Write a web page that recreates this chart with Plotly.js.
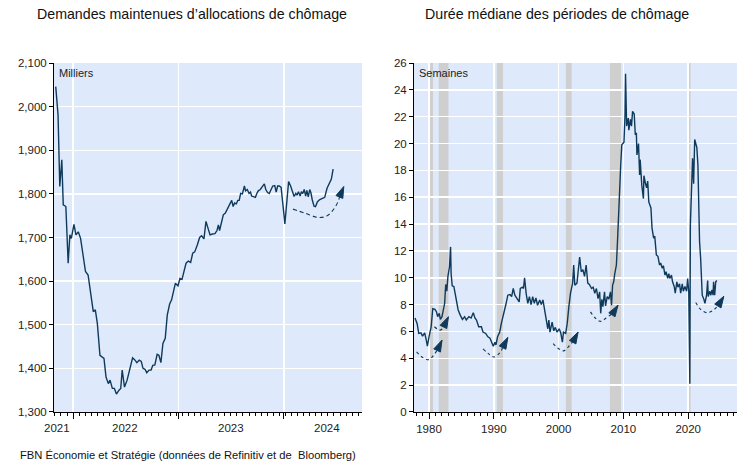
<!DOCTYPE html>
<html>
<head>
<meta charset="utf-8">
<script src="https://cdn.plot.ly/plotly-3.0.1.min.js"></script>
<style>
  body { margin: 0; background: white; }
  #chart { width: 747px; height: 463px; }
</style>
</head>
<body>
<div id="chart"></div>
<script>
// Demandes maintenues (milliers), hebdo
const claimDates = [
  "2021-11-02","2021-11-10","2021-11-16","2021-11-23","2021-11-28","2021-12-07","2021-12-15","2021-12-21","2021-12-26",
  "2022-01-04","2022-01-11","2022-01-19","2022-01-27","2022-02-04","2022-02-13","2022-02-22","2022-03-03","2022-03-12",
  "2022-03-19","2022-03-26","2022-04-04","2022-04-18","2022-04-25","2022-05-03","2022-05-09","2022-05-17","2022-05-24",
  "2022-05-31","2022-06-09","2022-06-15","2022-06-20","2022-06-28","2022-07-07","2022-07-17","2022-07-26","2022-08-02",
  "2022-08-10","2022-08-18","2022-08-25","2022-08-31","2022-09-07","2022-09-13","2022-09-21","2022-09-28","2022-10-04",
  "2022-10-11","2022-10-19","2022-10-25","2022-11-01","2022-11-08","2022-11-16","2022-11-23","2022-12-01","2022-12-08",
  "2022-12-14","2022-12-21","2022-12-30","2023-01-06","2023-01-13","2023-01-20","2023-01-27","2023-02-04","2023-02-12",
  "2023-02-19","2023-02-26","2023-03-07","2023-03-15","2023-03-22","2023-03-30","2023-04-06","2023-04-14","2023-04-20",
  "2023-04-28","2023-05-07","2023-05-14","2023-05-19","2023-05-23","2023-05-30","2023-06-05","2023-06-12","2023-06-18",
  "2023-06-22","2023-06-28","2023-07-04","2023-07-09","2023-07-14","2023-07-20","2023-07-25","2023-07-30","2023-08-04",
  "2023-08-10","2023-08-17","2023-08-21","2023-08-27","2023-09-02","2023-09-07","2023-09-11","2023-09-18","2023-09-24",
  "2023-09-29","2023-10-04","2023-10-11","2023-10-18","2023-10-25","2023-10-30","2023-11-05","2023-11-11","2023-11-17",
  "2023-11-23","2023-11-30","2023-12-05","2023-12-10","2023-12-16","2023-12-22","2023-12-26","2024-01-01","2024-01-04",
  "2024-01-10","2024-01-17","2024-01-24","2024-01-29","2024-02-05","2024-02-11","2024-02-15","2024-02-20","2024-02-26",
  "2024-03-01","2024-03-06","2024-03-11","2024-03-16","2024-03-20","2024-03-25","2024-03-30","2024-04-03","2024-04-08",
  "2024-04-14","2024-04-19","2024-04-26","2024-05-04","2024-05-12","2024-05-21","2024-05-29","2024-06-06","2024-06-13",
  "2024-06-19"
];
const claimValues = [
  2046,1981,1817,1878,1775,1771,1641,1706,1698,
  1730,1706,1713,1698,1667,1622,1614,1576,1530,
  1534,1503,1430,1423,1380,1365,1373,1354,1354,
  1341,1350,1354,1396,1357,1373,1400,1424,1420,
  1413,1419,1416,1400,1398,1390,1396,1396,1407,
  1408,1432,1430,1413,1457,1469,1522,1547,1557,
  1576,1595,1589,1606,1604,1625,1641,1646,1643,
  1664,1667,1683,1700,1704,1697,1737,1719,1706,
  1708,1709,1716,1729,1716,1736,1752,1756,1763,
  1771,1775,1785,1771,1779,1777,1785,1785,1801,
  1800,1818,1807,1810,1801,1804,1795,1793,1792,
  1801,1807,1810,1817,1823,1810,1803,1801,1810,
  1818,1819,1804,1818,1818,1815,1782,1752,1731,
  1771,1828,1818,1809,1794,1801,1797,1805,1795,
  1805,1801,1810,1795,1808,1793,1810,1803,1786,
  1772,1771,1782,1787,1789,1792,1813,1824,1834,
  1857
];

// Durée médiane (semaines), mensuel
const durDates = [
  "1977-11","1978-03","1978-06","1978-10","1979-01","1979-05","1979-08","1979-10","1980-01","1980-05",
  "1980-08","1980-12","1981-03","1981-05","1981-08","1981-10","1982-01","1982-03","1982-06","1982-07",
  "1982-08","1982-10","1982-12","1983-03","1983-05","1983-06","1983-08","1983-11","1984-01","1984-04",
  "1984-07","1984-11","1985-03","1985-07","1985-10","1986-03","1986-07","1986-11","1987-02","1987-05",
  "1987-09","1988-02","1988-05","1988-10","1989-02","1989-06","1989-09","1989-12","1990-03","1990-05",
  "1990-08","1990-12","1991-03","1991-06","1991-11","1992-03","1992-07","1992-10","1993-01","1993-04",
  "1993-08","1993-12","1994-02","1994-06","1994-08","1994-10","1995-01","1995-04","1995-07","1995-10",
  "1996-01","1996-04","1996-07","1996-10","1997-02","1997-05","1997-08","1997-11","1998-02","1998-05",
  "1998-07","1998-09","1999-01","1999-04","1999-07","1999-10","2000-02","2000-05","2000-08","2000-10",
  "2001-02","2001-05","2001-08","2001-11","2002-03","2002-05","2002-07","2002-11","2003-04","2003-07",
  "2003-10","2004-01","2004-04","2004-07","2004-10","2005-02","2005-05","2005-08","2005-11","2006-02",
  "2006-05","2006-07","2006-09","2006-11","2007-02","2007-04","2007-07","2007-10","2008-01","2008-03",
  "2008-05","2008-07","2008-09","2008-12","2009-02","2009-04","2009-06","2009-08","2009-10","2010-02",
  "2010-04","2010-05","2010-07","2010-10","2010-11","2011-02","2011-04","2011-06","2011-09","2011-11",
  "2012-01","2012-02","2012-05","2012-07","2012-08","2012-11","2013-02","2013-03","2013-06","2013-08",
  "2013-10","2013-12","2014-04","2014-06","2014-09","2014-11","2015-02","2015-05","2015-08","2015-10",
  "2016-01","2016-03","2016-06","2016-08","2016-11","2017-01","2017-03","2017-06","2017-08","2017-11",
  "2018-01","2018-04","2018-06","2018-09","2018-11","2019-02","2019-04","2019-07","2019-10","2019-12",
  "2020-02","2020-04","2020-05","2020-07","2020-09","2020-11","2021-01","2021-03","2021-05","2021-07",
  "2021-08","2021-10","2021-12","2022-01","2022-03","2022-06","2022-08","2022-11","2023-01","2023-02",
  "2023-05","2023-07","2023-09","2023-11","2023-12","2024-02","2024-04","2024-06"
];
const durValues = [
  7.0,6.6,5.85,5.9,5.65,5.9,5.35,4.9,5.6,6.35,
  7.7,7.65,7.45,7.1,7.35,6.9,7.1,7.45,8.1,8.85,
  9.5,9.0,10.1,10.8,12.3,10.3,9.4,9.35,8.95,8.1,
  7.6,7.2,6.9,7.1,6.85,7.1,7.0,7.4,7.0,6.85,
  6.35,6.35,5.95,5.85,5.6,5.5,5.15,4.9,5.2,5.0,
  5.6,5.95,6.6,7.2,7.95,8.7,8.75,8.6,9.2,8.7,
  8.45,8.2,9.2,9.3,9.2,10.0,8.8,8.1,8.6,8.0,
  8.6,8.1,8.5,7.95,8.35,8.0,8.35,7.6,6.85,6.2,
  6.85,5.95,6.7,6.05,6.3,5.95,6.2,5.9,5.2,5.95,
  5.85,6.6,7.85,8.85,9.6,10.95,9.45,9.6,11.55,10.45,
  10.6,10.1,10.95,9.6,9.5,9.2,9.3,8.85,9.2,8.45,
  8.95,7.35,8.4,7.85,8.95,7.9,8.6,8.4,8.95,7.95,
  9.45,9.7,10.3,10.95,12.7,14.9,16.4,18.4,19.9,20.1,
  22.1,25.2,21.3,21.9,21.0,21.8,21.3,22.4,22.2,20.65,
  20.8,19.15,20.0,17.65,18.8,16.9,15.9,17.6,17.0,16.7,
  17.2,15.65,15.2,13.7,12.95,13.1,11.7,11.6,10.95,11.1,
  10.7,10.9,10.2,10.45,9.95,10.3,9.95,10.2,9.7,9.35,
  8.85,9.7,9.3,9.55,8.85,9.55,9.0,9.35,9.0,9.95,
  8.95,2.1,13.9,16.4,18.9,17.0,20.3,20.0,19.7,18.4,
  15.9,12.7,11.45,9.95,8.7,8.4,8.1,8.7,9.8,8.6,
  9.0,8.7,9.1,8.7,9.7,8.7,9.7,9.8
];

// Récessions (zones grises)
const recessionStarts = ["1980-01-01","1981-07-01","1990-06-15","2001-02-15","2007-12-01","2020-02-01"];
const recessionEnds   = ["1980-08-15","1983-01-01","1991-06-01","2002-01-01","2009-08-15","2020-05-15"];

// Flèches pointillées (creux puis remontée)
const claimArcDates = ["2024-02-01","2024-03-13","2024-04-28","2024-05-27","2024-06-19","2024-07-06","2024-07-14","2024-07-26"];
const claimArcValues = [1765,1756,1746,1749,1763,1782,1798,1817];

const durArcs = [
  { x: ["1978-02","1978-12","1980-01","1980-09","1981-06","1982-01"], y: [4.48,4.1,3.9,4.2,4.75,5.35] },
  { x: ["1980-11","1981-09","1982-04","1982-07","1983-01"], y: [6.35,6.1,6.3,6.6,7.1] },
  { x: ["1988-05","1989-03","1990-01","1990-12","1991-07","1992-03"], y: [4.7,4.35,4.1,4.4,4.93,5.55] },
  { x: ["1999-03","1999-12","2000-10","2001-07","2002-05","2003-01"], y: [5.1,4.75,4.55,4.85,5.35,5.95] },
  { x: ["2004-12","2005-09","2006-07","2007-05","2008-07","2009-03"], y: [7.46,7.0,6.75,7.0,7.45,7.96] },
  { x: ["2021-03","2021-12","2022-12","2023-12","2024-11","2025-07"], y: [8.15,7.65,7.4,7.6,8.1,8.62] }
];

// Axes
const claimTickVals = ["2022-01-01","2023-01-01","2024-01-01"];
const claimLabelDates = ["2021-11-07","2022-06-30","2023-07-01","2024-05-28"];
const claimLabels = ["2021","2022","2023","2024"];
const durTickVals = ["1980-01-01","1990-01-01","2000-01-01","2010-01-01","2020-01-01"];
const durTickText = ["1980","1990","2000","2010","2020"];

const NAVY = "#0f3a5c";
const FONT = "Liberation Sans, Arial, sans-serif";

function arcTrace(x, y, xa, ya, dash) {
  const sizes = x.map((v, i) => (i === x.length - 1 ? 12 : 0));
  return {
    x: x,
    y: y,
    xaxis: xa,
    yaxis: ya,
    mode: "lines+markers",
    line: { color: NAVY, width: 1.1, dash: dash, shape: "spline" },
    marker: { symbol: "arrow", angleref: "previous", size: sizes, color: NAVY, opacity: 1,
              line: { width: 1, color: NAVY } },
    hoverinfo: "skip",
  };
}

function buildChart() {
  const traces = [
    {
      x: claimDates,
      y: claimValues,
      xaxis: "x",
      yaxis: "y",
      mode: "lines",
      line: { color: NAVY, width: 1.4 },
    },
    arcTrace(claimArcDates, claimArcValues, "x", "y", "4px,3px"),
    {
      x: durDates,
      y: durValues,
      xaxis: "x2",
      yaxis: "y2",
      mode: "lines",
      line: { color: NAVY, width: 1.4 },
    },
  ];
  durArcs.forEach((a) => traces.push(arcTrace(a.x, a.y, "x2", "y2", "3px,3px")));

  const shapes = recessionStarts.map((s, i) => ({
    type: "rect",
    xref: "x2",
    yref: "y2 domain",
    x0: s,
    x1: recessionEnds[i],
    y0: 0,
    y1: 1,
    fillcolor: "#cfcfcf",
    line: { width: 0 },
    layer: "below",
  }));

  const annotations = [
    { text: "Demandes maintenues d\u2019allocations de chômage", xref: "paper", yref: "paper",
      x: 192 / 747, y: 0.97, xanchor: "center", yanchor: "middle", showarrow: false,
      font: { size: 14.2, color: "#111" } },
    { text: "Durée médiane des périodes de chômage", xref: "paper", yref: "paper",
      x: 557 / 747, y: 0.97, xanchor: "center", yanchor: "middle", showarrow: false,
      font: { size: 14.2, color: "#111" } },
    { text: "Milliers", xref: "paper", yref: "paper", x: 57 / 747, y: 0.842,
      xanchor: "left", yanchor: "middle", showarrow: false, font: { size: 11, color: "#222" } },
    { text: "Semaines", xref: "paper", yref: "paper", x: 417 / 747, y: 0.842,
      xanchor: "left", yanchor: "middle", showarrow: false, font: { size: 11, color: "#222" } },
    { text: "FBN Économie et Stratégie (données de Refinitiv et de\u00a0 Bloomberg)", xref: "paper", yref: "paper",
      x: 18 / 747, y: 0.017, xanchor: "left", yanchor: "middle", showarrow: false,
      font: { size: 11.2, color: "#111" } },
  ];
  claimLabels.forEach((t, i) =>
    annotations.push({
      text: t, xref: "x", yref: "paper", x: claimLabelDates[i], y: 0.076,
      xanchor: "center", yanchor: "middle", showarrow: false, font: { size: 11.5, color: "#222" },
    })
  );

  const yCommon = {
    domain: [0.1102, 0.8639],
    ticks: "outside",
    ticklen: 4,
    tickcolor: "#000",
    showline: true,
    linecolor: "#000",
    linewidth: 1,
    showgrid: true,
    gridcolor: "white",
    gridwidth: 1.5,
    zeroline: false,
    fixedrange: true,
    tickfont: { size: 11.5, color: "#222" },
  };

  const layout = {
    width: 747,
    height: 463,
    margin: { l: 0, r: 0, t: 0, b: 0 },
    paper_bgcolor: "white",
    plot_bgcolor: "#deeafb",
    showlegend: false,
    font: { family: FONT, size: 11, color: "#222" },
    xaxis: {
      domain: [54 / 747, 362 / 747],
      anchor: "y",
      type: "date",
      range: ["2021-10-27", "2024-09-27"],
      tickmode: "array",
      tickvals: claimTickVals,
      ticks: "outside",
      ticklen: 6,
      tickcolor: "#000",
      showticklabels: false,
      showline: true,
      linecolor: "#000",
      showgrid: true,
      gridcolor: "white",
      gridwidth: 1.5,
      zeroline: false,
      minor: { ticks: "outside", ticklen: 3, tickcolor: "#000", dtick: 21 * 86400000, tick0: "2022-01-01", showgrid: false },
    },
    yaxis: Object.assign({}, yCommon, {
      anchor: "x",
      range: [1300, 2100],
      dtick: 100,
      tickformat: ",",
    }),
    xaxis2: {
      domain: [414 / 747, 737 / 747],
      anchor: "y2",
      type: "date",
      range: ["1977-09-07", "2027-07-13"],
      tickmode: "array",
      tickvals: durTickVals,
      ticktext: durTickText,
      ticks: "outside",
      ticklen: 6,
      tickcolor: "#000",
      showline: true,
      linecolor: "#000",
      showgrid: true,
      gridcolor: "white",
      gridwidth: 1.5,
      zeroline: false,
      tickfont: { size: 11.5, color: "#222" },
      minor: { ticks: "outside", ticklen: 3, tickcolor: "#000", dtick: "M12", tick0: "1980-01-01", showgrid: false },
    },
    yaxis2: Object.assign({}, yCommon, {
      anchor: "x2",
      range: [0, 26],
      dtick: 2,
    }),
    shapes: shapes,
    annotations: annotations,
  };

  Plotly.newPlot("chart", traces, layout, { staticPlot: true, displayModeBar: false });
}

window.onload = () => buildChart();
</script>
</body>
</html>
